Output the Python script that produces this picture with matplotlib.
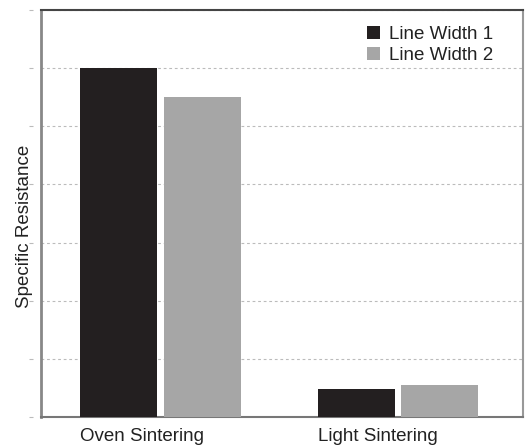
import matplotlib.pyplot as plt
import numpy as np

plt.rcParams['font.family'] = ['Liberation Sans', 'DejaVu Sans']

categories = ['Oven Sintering', 'Light Sintering']
series = ['Line Width 1', 'Line Width 2']
lw1 = [6.0, 0.48]
lw2 = [5.5, 0.55]
colors = ['#231f20', '#a6a6a6']

x = np.arange(len(categories))
w = 0.324
off = 0.175

fig = plt.figure(figsize=(5.29, 4.45), dpi=100)
ax = fig.add_axes([41 / 529, 1 - 417 / 445, (523 - 41) / 529, (417 - 10) / 445])

ax.bar(x - off, lw1, w, color=colors[0], label=series[0], zorder=3)
ax.bar(x + off, lw2, w, color=colors[1], label=series[1], zorder=3)

ax.set_xlim(-0.503, 1.525)
ax.set_ylim(0, 7)

# category labels sit left-aligned under the first bar
ax.set_xticks(x - off - w / 2)
ax.set_xticklabels(categories, ha='left', fontsize=13.5, color='#222222')
ax.tick_params(axis='x', length=0, pad=8)

# no values on y, only tiny tick dashes detached from the spine
ax.set_yticks(np.arange(0, 8))
ax.tick_params(axis='y', left=False, labelleft=False)
sec = ax.secondary_yaxis(-0.0166)
sec.set_yticks(np.arange(0, 8))
sec.set_yticklabels([])
sec.tick_params(length=3, width=0.8, color='#bbbbbb', direction='out')
sec.spines['left'].set_visible(False)

ax.grid(axis='y', color='#bbbbbb', linestyle=(0, (2.5, 2.5)), linewidth=0.8, zorder=0)

ax.spines['left'].set_color('#888888')
ax.spines['left'].set_linewidth(2)
ax.spines['bottom'].set_color('#777777')
ax.spines['bottom'].set_linewidth(1.5)
ax.spines['top'].set_color('#444444')
ax.spines['top'].set_linewidth(1.5)
ax.spines['right'].set_color('#999999')
ax.spines['right'].set_linewidth(1.5)

ax.set_ylabel('Specific Resistance', fontsize=13.5, color='#222222')
ax.yaxis.set_label_coords(-0.017, 0.468)

leg = ax.legend(loc='upper right', bbox_to_anchor=(0.953, 0.98), frameon=False,
                fontsize=13.5, handlelength=0.7, handleheight=0.7,
                handletextpad=0.45, labelspacing=0.2, borderaxespad=0.0)
for t in leg.get_texts():
    t.set_color('#222222')

fig.savefig('out.png', dpi=100)
